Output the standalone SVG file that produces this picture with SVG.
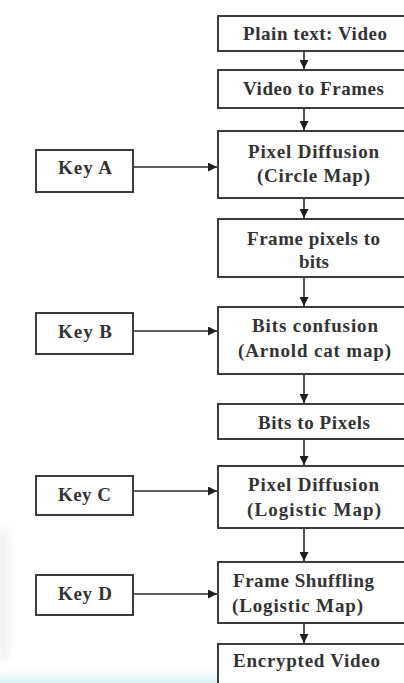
<svg xmlns="http://www.w3.org/2000/svg" width="404" height="683" viewBox="0 0 404 683">
  <style>
    .box { fill: #ffffff; stroke: #3c3c3c; stroke-width: 2; }
    .lbl { font-family: "Liberation Serif", "DejaVu Serif", serif; font-size: 19px; font-weight: bold; fill: #333333; text-anchor: middle; }
    .lbl-start { text-anchor: start; }
    .conn { stroke: #2a2a2a; stroke-width: 1.6; fill: none; marker-end: url(#arrow); }
  </style>
  <defs>
    <marker id="arrow" viewBox="0 0 10 10" refX="10" refY="5" markerWidth="9" markerHeight="9" markerUnits="userSpaceOnUse" orient="auto">
      <path d="M0,0 L10,5 L0,10 Z" fill="#1e1e1e"/>
    </marker>
    <linearGradient id="floor" x1="0" y1="0" x2="0" y2="1">
      <stop offset="0" stop-color="#ffffff" stop-opacity="0"/>
      <stop offset="1" stop-color="#d6f0f2"/>
    </linearGradient>
    <linearGradient id="edge" x1="0" y1="0" x2="1" y2="0">
      <stop offset="0" stop-color="#dcdcdc"/>
      <stop offset="1" stop-color="#ffffff" stop-opacity="0"/>
    </linearGradient>
    <filter id="soft"><feGaussianBlur stdDeviation="4"/></filter>
  </defs>

  <rect width="404" height="683" fill="#ffffff"/>
  <!-- faint shading on the left margin and along the bottom -->
  <rect x="0" y="530" width="14" height="130" fill="url(#edge)" filter="url(#soft)"/>
  <rect x="0" y="664" width="404" height="19" fill="url(#floor)"/>

  <!-- connectors -->
  <g id="connectors">
    <line class="conn" x1="304" y1="51" x2="304" y2="69"/>
    <line class="conn" x1="304" y1="108" x2="304" y2="130"/>
    <line class="conn" x1="304" y1="198" x2="304" y2="218"/>
    <line class="conn" x1="304" y1="277" x2="304" y2="306"/>
    <line class="conn" x1="304" y1="374" x2="304" y2="403"/>
    <line class="conn" x1="304" y1="439" x2="304" y2="465"/>
    <line class="conn" x1="304" y1="528" x2="304" y2="561"/>
    <line class="conn" x1="304" y1="623" x2="304" y2="643"/>
    <line class="conn" x1="133" y1="167" x2="217" y2="167"/>
    <line class="conn" x1="133" y1="331" x2="217" y2="331"/>
    <line class="conn" x1="133" y1="491" x2="217" y2="491"/>
    <line class="conn" x1="133" y1="594" x2="217" y2="594"/>
  </g>

  <!-- main chain -->
  <g id="plain-text">
    <rect class="box" x="218" y="16" width="200" height="35"/>
    <text class="lbl" x="315" y="40" textLength="144">Plain text: Video</text>
  </g>
  <g id="video-to-frames">
    <rect class="box" x="218" y="70" width="200" height="38"/>
    <text class="lbl" x="313.5" y="95" textLength="141">Video to Frames</text>
  </g>
  <g id="pixel-diffusion-circle">
    <rect class="box" x="218" y="131" width="200" height="67"/>
    <text class="lbl" x="313.5" y="158" textLength="131">Pixel Diffusion</text>
    <text class="lbl" x="313.5" y="182" textLength="113">(Circle Map)</text>
  </g>
  <g id="frame-pixels-to-bits">
    <rect class="box" x="218" y="219" width="200" height="58"/>
    <text class="lbl" x="313.5" y="245" textLength="133">Frame pixels to</text>
    <text class="lbl" x="314" y="268" textLength="30">bits</text>
  </g>
  <g id="bits-confusion">
    <rect class="box" x="218" y="307" width="200" height="67"/>
    <text class="lbl" x="315" y="332" textLength="126">Bits confusion</text>
    <text class="lbl" x="314.5" y="357" textLength="153">(Arnold cat map)</text>
  </g>
  <g id="bits-to-pixels">
    <rect class="box" x="218" y="404" width="200" height="35"/>
    <text class="lbl" x="314" y="429" textLength="112">Bits to Pixels</text>
  </g>
  <g id="pixel-diffusion-logistic">
    <rect class="box" x="218" y="466" width="200" height="62"/>
    <text class="lbl" x="313.5" y="491" textLength="131">Pixel Diffusion</text>
    <text class="lbl" x="314" y="516" textLength="134">(Logistic  Map)</text>
  </g>
  <g id="frame-shuffling">
    <rect class="box" x="218" y="562" width="200" height="61"/>
    <text class="lbl lbl-start" x="233" y="587" textLength="141">Frame Shuffling</text>
    <text class="lbl lbl-start" x="232" y="612" textLength="131">(Logistic Map)</text>
  </g>
  <g id="encrypted-video">
    <rect class="box" x="218" y="644" width="200" height="50"/>
    <text class="lbl lbl-start" x="233" y="667" textLength="147">Encrypted Video</text>
  </g>

  <!-- key inputs -->
  <g id="key-a">
    <rect class="box" x="36" y="150" width="97" height="42"/>
    <text class="lbl" x="85" y="174" textLength="54">Key A</text>
  </g>
  <g id="key-b">
    <rect class="box" x="36" y="313" width="97" height="41"/>
    <text class="lbl" x="85" y="338" textLength="54">Key B</text>
  </g>
  <g id="key-c">
    <rect class="box" x="36" y="476" width="97" height="39"/>
    <text class="lbl" x="84.5" y="501" textLength="53">Key C</text>
  </g>
  <g id="key-d">
    <rect class="box" x="36" y="575" width="97" height="40"/>
    <text class="lbl" x="85" y="600" textLength="54">Key D</text>
  </g>
</svg>
